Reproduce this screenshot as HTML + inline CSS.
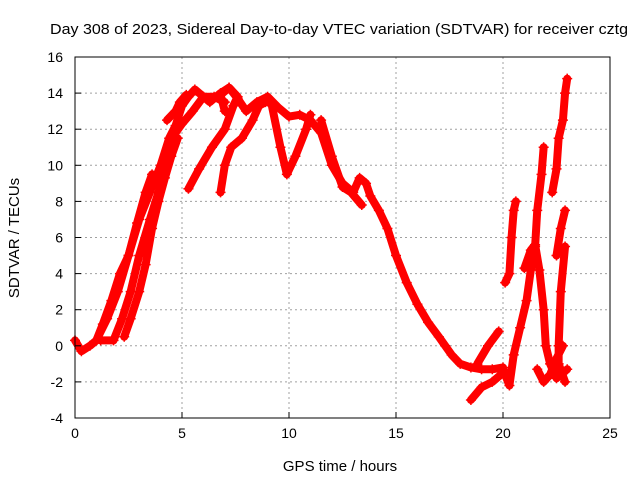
<!DOCTYPE html>
<html><head><meta charset="utf-8"><style>
body{margin:0;background:#fff}
svg{display:block;font-family:"Liberation Sans",sans-serif}
</style></head><body>
<svg id="c" width="640" height="480">
<rect width="640" height="480" fill="#fff"/>
<text x="50" y="34" font-size="15" textLength="578" lengthAdjust="spacingAndGlyphs">Day 308 of 2023, Sidereal Day-to-day VTEC variation (SDTVAR) for receiver cztg</text>
<text x="340" y="471" font-size="15" text-anchor="middle">GPS time / hours</text>
<text transform="translate(19,238) rotate(-90)" font-size="15" text-anchor="middle">SDTVAR / TECUs</text>
<g id="grid"></g><g id="data"></g><g id="axes"></g>
</svg>
<script>
const xTicks=[0,5,10,15,20,25];
const yTicks=[-4,-2,0,2,4,6,8,10,12,14,16];
const trackA=[[0,0.3],[0.3,-0.3],[0.7,0],[1.0,0.3],[1.3,1.2],[1.7,2.5],[2.1,4],[2.5,5],[2.9,6.8],[3.3,8.5],[3.6,9.5]];
const trackB=[[1,0.3],[1.5,1.5],[2,3],[2.5,5],[3,7],[3.5,8.5],[4,10],[4.4,11.5],[4.7,12.2],[5,13.3],[5.3,13.8],[5.6,14.2],[6,13.8],[6.3,13.5],[6.8,14],[7.2,14.3],[7.6,13.7],[8,13],[8.5,13.5],[9,13.8],[9.5,13.2],[10,12.7],[10.5,12.8],[11,12.5],[11.5,11.8],[12,10],[12.5,9],[13,8.5],[13.3,9.3],[13.6,9],[13.8,8.3],[14.2,7.5],[14.6,6.5],[15,5],[15.5,3.5],[16,2.3],[16.5,1.3],[17,0.5],[17.3,0],[17.6,-0.5],[18,-1],[18.5,-1.2],[19,-1.3],[19.5,-1.3],[20,-1.2]];
const trackC=[[1.2,0.3],[1.8,0.3],[2.2,1.5],[2.6,3],[3,5],[3.5,7],[3.9,8.5],[4.3,10.5],[4.7,11.8],[5,12.3],[5.5,13],[6,13.8],[6.5,13.8],[7,13.5]];
const trackD=[[2.3,0.5],[2.6,1.5],[3,3],[3.3,4.5],[3.6,6.5],[3.9,8],[4.2,9.3],[4.5,10.5],[4.8,11.5]];
const trackE=[[4.3,12.5],[4.7,13],[4.9,13.5],[5.2,13.9]];
const trackF=[[5.3,8.7],[5.8,9.8],[6.4,11],[7,12],[7.4,13.3],[7.6,13.8],[7.2,14.3],[6.8,13.9],[7,13]];
const trackG=[[6.8,8.5],[7,10],[7.3,11],[7.8,11.5],[8.3,12.5],[8.6,13.3],[8.9,13.5]];
const trackH=[[9.2,13.3],[9.6,11],[9.9,9.5],[10.3,10.5],[10.8,12],[11,12.8]];
const trackI=[[11.5,12.5],[12,10.5],[12.5,8.8],[12.9,8.5],[13.4,7.8]];
const trackJ=[[18.5,-3],[19,-2.3],[19.5,-2],[20,-1.5]];
const trackK=[[18.8,-1],[19.3,0],[19.8,0.8]];
const trackL=[[20.1,3.5],[20.3,4],[20.4,6],[20.5,7.5],[20.6,8]];
const trackM=[[20,-1.3],[20.3,-2.2],[20.5,-0.5],[20.8,1],[21.1,2.5],[21.3,4.2],[21.5,5.5],[21.6,7.5],[21.8,9.5],[21.9,11]];
const trackN=[[21,4.3],[21.3,5.3],[21.5,5.6],[21.7,4.2],[21.9,2],[22,0],[22.2,-1],[22.5,-1.8],[22.8,-1.5],[23,-1.3]];
const trackO=[[21.6,-1.3],[21.9,-2],[22.2,-1.6],[22.5,-0.7],[22.8,0]];
const trackP=[[22.3,8.5],[22.5,9.8],[22.6,11.5],[22.8,12.5],[22.9,14],[23,14.8]];
const trackQ=[[22.5,5],[22.7,6.5],[22.9,7.5]];
const trackR=[[22.9,5.5],[22.7,3],[22.6,0],[22.6,-1],[22.9,-2]];
const tracks=[trackA,trackB,trackC,trackD,trackE,trackF,trackG,trackH,trackI,trackJ,trackK,trackL,trackM,trackN,trackO,trackP,trackQ,trackR];
const NS="http://www.w3.org/2000/svg";
const L=75,R=610,T=57,B=418;
const X=h=>L+(h-0)/25*(R-L);
const Y=v=>B-(v+4)/20*(B-T);
const grid=document.getElementById('grid'),data=document.getElementById('data'),axes=document.getElementById('axes');
function mk(tag,attrs,parent){const e=document.createElementNS(NS,tag);for(const k in attrs)e.setAttribute(k,attrs[k]);parent.appendChild(e);return e;}
xTicks.forEach(t=>{
 if(t>0&&t<25){const g=mk('line',{x1:X(t),x2:X(t),y1:T,y2:B,stroke:'#a0a0a0','stroke-dasharray':'2,3'},grid);
 
 }
 const tk=mk('line',{x1:X(t),x2:X(t),y1:B,y2:B-6,stroke:'#000'},axes);
 
 
 const lb=mk('text',{x:X(t),y:B+20,'font-size':14,'text-anchor':'middle'},axes);lb.textContent=t;
 
 
});
yTicks.forEach(t=>{
 if(t>-4&&t<16){const g=mk('line',{x1:L,x2:R,y1:Y(t),y2:Y(t),stroke:'#a0a0a0','stroke-dasharray':'2,3'},grid);
 
 }
 const tk=mk('line',{x1:L,x2:L+6,y1:Y(t),y2:Y(t),stroke:'#000'},axes);
 
 
 const lb=mk('text',{x:L-12,y:Y(t)+5,'font-size':14,'text-anchor':'end'},axes);lb.textContent=t;
 
 
});
const fr=mk('rect',{x:L,y:T,width:R-L,height:B-T,fill:'none',stroke:'#000'},axes);


tracks.forEach(tr=>{
 const pl=mk('polyline',{points:tr.map(p=>X(p[0])+','+Y(p[1])).join(' '),fill:'none',stroke:'#f00','stroke-width':8,'stroke-linejoin':'round','stroke-linecap':'round'},data);
 
 
 tr.forEach(p=>{const x=X(p[0]),y=Y(p[1]);
  const m=mk('path',{d:`M${x-5},${y}H${x+5}M${x},${y-5}V${y+5}`,stroke:'#f00','stroke-width':1.5},data);
  
  
 });
});
</script>
</body></html>
